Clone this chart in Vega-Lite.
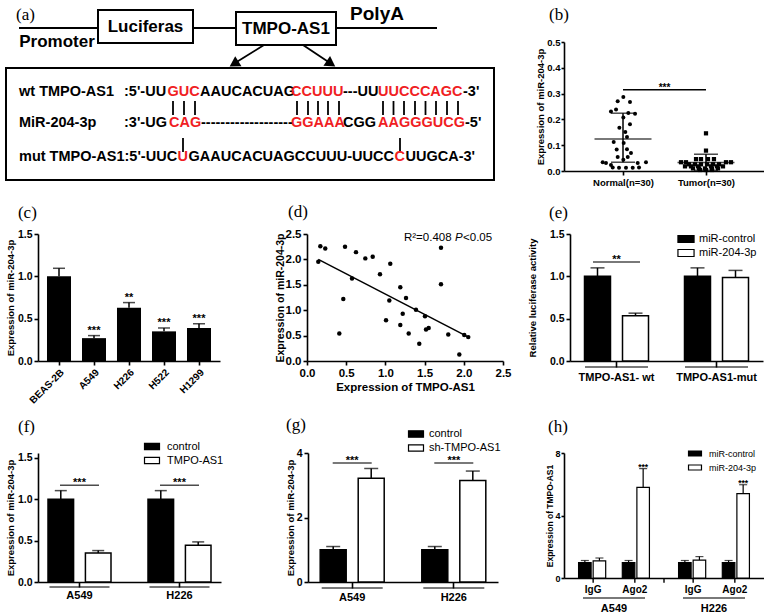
{
"$schema":"https://vega.github.io/schema/vega-lite/v6.json",
"background":"white",
"padding":5,
"config":{
 "view":{"stroke":null},
 "font":"Liberation Sans",
 "axis":{"domainColor":"#000","domainWidth":1.6,"tickColor":"#000","tickWidth":1.6,"tickSize":4,"labelColor":"#000","labelFont":"Liberation Sans","labelFontWeight":"bold","labelFontSize":10,"titleFont":"Liberation Sans","titleFontWeight":"bold","titleFontSize":9.5,"titleColor":"#000","grid":false,"labelPadding":2,"labelFlush":false,"labelOverlap":false},
 "legend":{"orient":"none","title":null,"labelFont":"Liberation Sans","labelColor":"#000","labelFontWeight":"normal","padding":0,"symbolStrokeColor":"#000","symbolStrokeWidth":1.2,"rowPadding":0,"labelOffset":5}
},
"datasets":{
 "a_box":[{"x":5,"x2":493,"y":68,"y2":180},{"x":97,"x2":192,"y":10,"y2":43},{"x":235,"x2":335,"y":12,"y2":45}],
 "a_line":[{"x":18,"x2":97,"y":28,"y2":28},{"x":192,"x2":235,"y":28,"y2":28},{"x":335,"x2":436,"y":28,"y2":28},
  {"x":263,"x2":234,"y":45,"y2":63},{"x":302,"x2":329,"y":45,"y2":63},
  {"x":172,"x2":172,"y":101,"y2":115},{"x":183,"x2":183,"y":101,"y2":115},{"x":194,"x2":194,"y":101,"y2":115},
  {"x":296,"x2":296,"y":101,"y2":115},{"x":307,"x2":307,"y":101,"y2":115},{"x":317,"x2":317,"y":101,"y2":115},{"x":327,"x2":327,"y":101,"y2":115},{"x":338,"x2":338,"y":101,"y2":115},
  {"x":382,"x2":382,"y":101,"y2":115},{"x":392.5,"x2":392.5,"y":101,"y2":115},{"x":403,"x2":403,"y":101,"y2":115},{"x":414,"x2":414,"y":101,"y2":115},{"x":424.5,"x2":424.5,"y":101,"y2":115},{"x":435,"x2":435,"y":101,"y2":115},{"x":446,"x2":446,"y":101,"y2":115},{"x":457,"x2":457,"y":101,"y2":115},
  {"x":182,"x2":182,"y":138,"y2":152},{"x":399,"x2":399,"y":138,"y2":152}],
 "a_head1":[{"x":233,"y":63.9}],
 "a_head2":[{"x":330,"y":63.7}],
 "a_lbl":[{"x":15,"y":20,"t":"(a)"}],
 "a_t17":[{"x":144.5,"y":27,"t":"Luciferas"},{"x":285,"y":29,"t":"TMPO-AS1"},{"x":56,"y":42,"t":"Promoter"}],
 "a_t19":[{"x":376,"y":14,"t":"PolyA"}],
 "a_seq":[
  {"x":18,"y":92,"t":"wt TMPO-AS1","c":"k"},{"x":123,"y":92,"t":":5'-UU","c":"k"},{"x":166.5,"y":92,"t":"GUC","c":"r"},{"x":199,"y":92,"t":"AAUCACUAG","c":"k"},{"x":290,"y":92,"t":"CCUUU","c":"r"},{"x":342,"y":92,"t":"---UU","c":"k"},{"x":377,"y":92,"t":"UUCCCAGC","c":"r"},{"x":462,"y":92,"t":"-3'","c":"k"},
  {"x":18,"y":123,"t":"MiR-204-3p","c":"k"},{"x":123,"y":123,"t":":3'-UG","c":"k"},{"x":168,"y":123,"t":"CAG","c":"r"},{"x":200,"y":123,"t":"-------------------","c":"k"},{"x":290,"y":123,"t":"GGAAA","c":"r"},{"x":342,"y":123,"t":"CGG","c":"k"},{"x":377,"y":123,"t":"AAGGGUCG","c":"r"},{"x":464,"y":123,"t":"-5'","c":"k"},
  {"x":18,"y":157,"t":"mut TMPO-AS1:5'-UUC","c":"k"},{"x":176.5,"y":157,"t":"U","c":"r"},{"x":187.5,"y":157,"t":"GAAUCACUAGCCUUU-UUCC","c":"k"},{"x":393.5,"y":157,"t":"C","c":"r"},{"x":404.5,"y":157,"t":"UUGCA-3'","c":"k"}],
 "b_lbl":[{"jx":0.108,"v":0.585,"t":"(b)"}],
 "b_pts":[{"g":"N","jx":1.004,"v":0.287},{"g":"N","jx":0.936,"v":0.27},{"g":"N","jx":1.084,"v":0.267},{"g":"N","jx":0.855,"v":0.231},{"g":"N","jx":0.916,"v":0.238},{"g":"N","jx":1.064,"v":0.225},{"g":"N","jx":1.145,"v":0.222},{"g":"N","jx":1.004,"v":0.207},{"g":"N","jx":1.084,"v":0.181},{"g":"N","jx":0.956,"v":0.168},{"g":"N","jx":1.028,"v":0.151},{"g":"N","jx":1.048,"v":0.132},{"g":"N","jx":0.888,"v":0.112},{"g":"N","jx":1.008,"v":0.109},{"g":"N","jx":1.048,"v":0.084},{"g":"N","jx":0.924,"v":0.083},{"g":"N","jx":1.096,"v":0.07},{"g":"N","jx":0.936,"v":0.054},{"g":"N","jx":1.057,"v":0.054},{"g":"N","jx":1.004,"v":0.044},{"g":"N","jx":0.755,"v":0.034},{"g":"N","jx":0.795,"v":0.031},{"g":"N","jx":1.177,"v":0.031},{"g":"N","jx":1.277,"v":0.034},{"g":"N","jx":0.876,"v":0.014},{"g":"N","jx":0.952,"v":0.013},{"g":"N","jx":1.036,"v":0.013},{"g":"N","jx":1.117,"v":0.013},{"g":"N","jx":1.193,"v":0.014},{"g":"N","jx":0.855,"v":0.023},
  {"g":"T","jx":2.0,"v":0.146},{"g":"T","jx":2.0,"v":0.079},{"g":"T","jx":1.88,"v":0.046},{"g":"T","jx":1.94,"v":0.046},{"g":"T","jx":2.024,"v":0.046},{"g":"T","jx":2.096,"v":0.046},{"g":"T","jx":1.699,"v":0.034},{"g":"T","jx":1.759,"v":0.034},{"g":"T","jx":2.241,"v":0.034},{"g":"T","jx":2.301,"v":0.034},{"g":"T","jx":1.795,"v":0.026},{"g":"T","jx":1.867,"v":0.026},{"g":"T","jx":1.94,"v":0.026},{"g":"T","jx":2.012,"v":0.026},{"g":"T","jx":2.084,"v":0.026},{"g":"T","jx":2.157,"v":0.026},{"g":"T","jx":1.747,"v":0.018},{"g":"T","jx":1.819,"v":0.018},{"g":"T","jx":1.904,"v":0.018},{"g":"T","jx":2.06,"v":0.018},{"g":"T","jx":2.133,"v":0.018},{"g":"T","jx":2.205,"v":0.018},{"g":"T","jx":1.843,"v":0.01},{"g":"T","jx":1.916,"v":0.01},{"g":"T","jx":1.988,"v":0.01},{"g":"T","jx":2.072,"v":0.01},{"g":"T","jx":2.145,"v":0.01},{"g":"T","jx":1.928,"v":0.004},{"g":"T","jx":2.0,"v":0.004},{"g":"T","jx":2.072,"v":0.004}],
 "b_stats":[{"jx":1,"k":"mean","v":0.124},{"jx":1,"k":"lo","v":0.034},{"jx":1,"k":"hi","v":0.224},{"jx":2,"k":"mean","v":0.033},{"jx":2,"k":"lo","v":0.003},{"jx":2,"k":"hi","v":0.065}],
 "b_sig":[{"jx":1,"jx2":2,"v":0.315,"jm":1.5,"t":"***"}],
 "c":[{"cell":"BEAS-2B","v":1.0,"hi":1.095,"sig":""},{"cell":"A549","v":0.27,"hi":0.3,"sig":"***"},{"cell":"H226","v":0.63,"hi":0.69,"sig":"**"},{"cell":"H522","v":0.35,"hi":0.39,"sig":"***"},{"cell":"H1299","v":0.39,"hi":0.44,"sig":"***"}],
 "c_lbl":[{"cell":"BEAS-2B","t":"(c)"}],
 "d_lbl":[{"x":-0.242,"y":2.835,"t":"(d)"}],
 "d_pts":[{"x":0.144,"y":1.955},{"x":0.17,"y":2.26},{"x":0.233,"y":2.214},{"x":0.485,"y":2.247},{"x":0.625,"y":2.143},{"x":0.744,"y":2.02},{"x":0.838,"y":2.05},{"x":1.062,"y":1.916},{"x":0.931,"y":1.708},{"x":0.574,"y":1.623},{"x":0.463,"y":1.22},{"x":0.412,"y":0.54},{"x":1.008,"y":0.8},{"x":1.05,"y":1.19},{"x":1.19,"y":1.45},{"x":1.263,"y":1.24},{"x":1.221,"y":0.93},{"x":1.19,"y":0.71},{"x":1.297,"y":0.54},{"x":1.432,"y":0.34},{"x":1.39,"y":1.01},{"x":1.505,"y":0.88},{"x":1.518,"y":0.62},{"x":1.552,"y":0.65},{"x":1.709,"y":2.23},{"x":1.709,"y":1.51},{"x":1.802,"y":0.52},{"x":1.943,"y":0.13},{"x":2.006,"y":0.51},{"x":2.057,"y":0.47}],
 "d_fit":[{"x":0.144,"y":2.0},{"x":2.06,"y":0.47}],
 "d_lab":[{"x":1.237,"y":2.42,"t":"R²=0.408","it":false},{"x":1.888,"y":2.42,"t":"P","it":true},{"x":1.99,"y":2.42,"t":"<0.05","it":false}],
 "e":[{"grp":"TMPO-AS1- wt","s":"miR-control","v":1.0,"hi":1.1},{"grp":"TMPO-AS1- wt","s":"miR-204-3p","v":0.535,"hi":0.565},{"grp":"TMPO-AS1-mut","s":"miR-control","v":1.0,"hi":1.1},{"grp":"TMPO-AS1-mut","s":"miR-204-3p","v":0.985,"hi":1.07}],
 "e_sig":[{"grp":"TMPO-AS1- wt","y":1.17,"t":"**"}],
 "e_grp":[{"grp":"TMPO-AS1- wt"},{"grp":"TMPO-AS1-mut"}],
 "e_lbl":[{"grp":"TMPO-AS1- wt","t":"(e)"}],
 "f":[{"grp":"A549","s":"control","v":1.0,"hi":1.105},{"grp":"A549","s":"TMPO-AS1","v":0.35,"hi":0.38},{"grp":"H226","s":"control","v":1.0,"hi":1.105},{"grp":"H226","s":"TMPO-AS1","v":0.445,"hi":0.485}],
 "f_sig":[{"grp":"A549","y":1.17,"t":"***"},{"grp":"H226","y":1.17,"t":"***"}],
 "f_lbl":[{"grp":"A549","t":"(f)"}],
 "g":[{"grp":"A549","s":"control","v":1.0,"hi":1.1},{"grp":"A549","s":"sh-TMPO-AS1","v":3.22,"hi":3.52},{"grp":"H226","s":"control","v":1.0,"hi":1.1},{"grp":"H226","s":"sh-TMPO-AS1","v":3.15,"hi":3.44}],
 "g_sig":[{"grp":"A549","y":3.69,"t":"***"},{"grp":"H226","y":3.69,"t":"***"}],
 "g_lbl":[{"grp":"A549","t":"(g)"}],
 "h":[{"cell":"A549","s":"miR-control","slot":"IgG c","v":0.98,"hi":1.12,"sig":""},{"cell":"A549","s":"miR-204-3p","slot":"IgG m","v":1.1,"hi":1.28,"sig":""},{"cell":"A549","s":"miR-control","slot":"Ago2 c","v":0.98,"hi":1.12,"sig":""},{"cell":"A549","s":"miR-204-3p","slot":"Ago2 m","v":5.8,"hi":7.0,"sig":"***"},
  {"cell":"H226","s":"miR-control","slot":"IgG c","v":0.98,"hi":1.12,"sig":""},{"cell":"H226","s":"miR-204-3p","slot":"IgG m","v":1.15,"hi":1.37,"sig":""},{"cell":"H226","s":"miR-control","slot":"Ago2 c","v":0.98,"hi":1.12,"sig":""},{"cell":"H226","s":"miR-204-3p","slot":"Ago2 m","v":5.4,"hi":5.97,"sig":"***"}],
 "h_lab":[{"cell":"A549","ip":"IgG"},{"cell":"A549","ip":"Ago2"},{"cell":"H226","ip":"IgG"},{"cell":"H226","ip":"Ago2"}],
 "h_cell":[{"cell":"A549"},{"cell":"H226"}],
 "h_gap":[{"cell":"A549"}],
 "h_lbl":[{"cell":"A549","t":"(h)"}]
},
"spacing":192,
"bounds":"flush",
"resolve":{"scale":{"color":"independent"},"legend":{"color":"independent"}},
"vconcat":[
 {"spacing":70,"bounds":"flush","resolve":{"scale":{"color":"independent"},"legend":{"color":"independent"}},"hconcat":[
  {"width":456,"height":129,
   "encoding":{"x":{"field":"x","type":"quantitative","scale":{"domain":[37,493],"nice":false,"zero":false},"axis":null},
               "y":{"field":"y","type":"quantitative","scale":{"domain":[42,171],"nice":false,"zero":false,"reverse":true},"axis":null}},
   "layer":[
    {"data":{"name":"a_box"},"mark":{"type":"rect","fill":"transparent","stroke":"#000","strokeWidth":2},"encoding":{"x2":{"field":"x2"},"y2":{"field":"y2"}}},
    {"data":{"name":"a_line"},"mark":{"type":"rule","color":"#000","strokeWidth":1.8},"encoding":{"x2":{"field":"x2"},"y2":{"field":"y2"}}},
    {"data":{"name":"a_head1"},"mark":{"type":"point","shape":"triangle-up","filled":true,"size":140,"angle":238,"color":"#000","opacity":1}},
    {"data":{"name":"a_head2"},"mark":{"type":"point","shape":"triangle-up","filled":true,"size":140,"angle":124,"color":"#000","opacity":1}},
    {"data":{"name":"a_lbl"},"mark":{"type":"text","font":"Liberation Serif","fontSize":17,"align":"left","baseline":"alphabetic","color":"#000"},"encoding":{"text":{"field":"t"}}},
    {"data":{"name":"a_t17"},"mark":{"type":"text","fontWeight":"bold","fontSize":17,"align":"center","baseline":"middle","color":"#000"},"encoding":{"text":{"field":"t"}}},
    {"data":{"name":"a_t19"},"mark":{"type":"text","fontWeight":"bold","fontSize":19,"align":"center","baseline":"middle","color":"#000"},"encoding":{"text":{"field":"t"}}},
    {"data":{"name":"a_seq"},"mark":{"type":"text","fontWeight":"bold","fontSize":14.5,"align":"left","baseline":"middle"},"encoding":{"text":{"field":"t"},"color":{"field":"c","type":"nominal","scale":{"domain":["k","r"],"range":["#000000","#f01e23"]},"legend":null}}}
   ]},
  {"width":200,"height":129,
   "encoding":{"x":{"field":"jx","type":"quantitative","scale":{"domain":[0.289,2.699],"nice":false,"zero":false},"axis":{"values":[1,2],"labelExpr":"datum.value==1?'Normal(n=30)':'Tumor(n=30)'","title":null,"labelFontSize":9.5,"labelPadding":2}},
               "y":{"field":"v","type":"quantitative","scale":{"domain":[0,0.5],"nice":false},"axis":{"values":[0,0.1,0.2,0.3,0.4,0.5],"format":".1f","title":"Expression of miR-204-3p","labelFontSize":9.5,"tickSize":3,"labelPadding":1,"titlePadding":1}}},
   "layer":[
    {"data":{"name":"b_pts"},"transform":[{"filter":"datum.g=='N'"}],"mark":{"type":"circle","size":16,"color":"#000","opacity":1}},
    {"data":{"name":"b_pts"},"transform":[{"filter":"datum.g=='T'"}],"mark":{"type":"square","size":18,"color":"#000","opacity":1}},
    {"data":{"name":"b_stats"},"transform":[{"filter":"datum.k=='mean'"}],"mark":{"type":"tick","orient":"horizontal","size":57,"thickness":1.5,"color":"#000"}},
    {"data":{"name":"b_stats"},"transform":[{"filter":"datum.k!='mean'"}],"mark":{"type":"tick","orient":"horizontal","size":24,"thickness":1.5,"color":"#000"}},
    {"data":{"name":"b_stats"},"transform":[{"filter":"datum.k!='mean'"}],"mark":{"type":"line","color":"#000","strokeWidth":1.5},"encoding":{"detail":{"field":"jx"}}},
    {"data":{"name":"b_sig"},"mark":{"type":"rule","color":"#000","strokeWidth":1.5},"encoding":{"x2":{"field":"jx2"}}},
    {"data":{"name":"b_sig"},"mark":{"type":"text","fontWeight":"bold","fontSize":10,"baseline":"alphabetic","dy":1,"color":"#000"},"encoding":{"x":{"field":"jm","type":"quantitative","scale":{"domain":[0.289,2.699],"nice":false,"zero":false}},"text":{"field":"t"}}},
    {"data":{"name":"b_lbl"},"mark":{"type":"text","font":"Liberation Serif","fontSize":17,"align":"left","baseline":"alphabetic","color":"#000"},"encoding":{"text":{"field":"t"}}}
   ]}
 ]},
 {"spacing":219,"bounds":"flush","resolve":{"scale":{"color":"independent"},"legend":{"color":"independent"}},"vconcat":[
  {"spacing":87,"bounds":"flush","resolve":{"scale":{"color":"independent"},"legend":{"color":"independent"}},"hconcat":[
   {"width":182,"height":127,
    "data":{"name":"c"},
    "encoding":{"x":{"field":"cell","type":"nominal","sort":null,"scale":{"paddingInner":0.314,"paddingOuter":0.257},"axis":{"title":null,"labelAngle":-45,"labelFontSize":10}}},
    "layer":[
     {"mark":{"type":"bar","color":"#000"},"encoding":{"y":{"field":"v","type":"quantitative","scale":{"domain":[0,1.5],"nice":false},"axis":{"values":[0,0.5,1,1.5],"format":".1f","title":"Expression of miR-204-3p","labelFontSize":10.5,"titlePadding":2}}}},
     {"mark":{"type":"rule","color":"#000","strokeWidth":1.5},"encoding":{"y":{"field":"v","type":"quantitative","scale":{"domain":[0,1.5],"nice":false}},"y2":{"field":"hi"}}},
     {"mark":{"type":"tick","orient":"horizontal","size":12,"thickness":1.5,"color":"#000"},"encoding":{"y":{"field":"hi","type":"quantitative","scale":{"domain":[0,1.5],"nice":false}}}},
     {"mark":{"type":"text","fontWeight":"bold","fontSize":11,"baseline":"alphabetic","dy":-2,"color":"#000"},"encoding":{"y":{"field":"hi","type":"quantitative","scale":{"domain":[0,1.5],"nice":false}},"text":{"field":"sig"}}},
     {"data":{"name":"c_lbl"},"mark":{"type":"text","font":"Liberation Serif","fontSize":17,"align":"left","baseline":"alphabetic","color":"#000"},"encoding":{"x":{"field":"cell","type":"nominal","bandPosition":-1.21},"y":{"datum":1.689,"scale":{"domain":[0,1.5],"nice":false}},"text":{"field":"t"}}}
    ]},
   {"spacing":67,"bounds":"flush","resolve":{"scale":{"color":"independent"},"legend":{"color":"independent"}},"hconcat":[
    {"width":196,"height":127,
     "encoding":{"x":{"field":"x","type":"quantitative","scale":{"domain":[0,2.5],"nice":false},"axis":{"values":[0,0.5,1,1.5,2,2.5],"format":".1f","title":"Expression of TMPO-AS1","labelFontSize":11.5,"titleFontSize":11.5,"titlePadding":3}},
                 "y":{"field":"y","type":"quantitative","scale":{"domain":[0,2.5],"nice":false},"axis":{"values":[0,0.5,1,1.5,2,2.5],"format":".1f","title":"Expression of miR-204-3p","labelFontSize":11.5,"titleFontSize":10.5,"titlePadding":0}}},
     "layer":[
      {"data":{"name":"d_pts"},"mark":{"type":"circle","size":20,"color":"#000","opacity":1}},
      {"data":{"name":"d_fit"},"mark":{"type":"line","color":"#000","strokeWidth":1.5}},
      {"data":{"name":"d_lab"},"transform":[{"filter":"!datum.it"}],"mark":{"type":"text","align":"left","baseline":"middle","fontSize":11.5,"color":"#000"},"encoding":{"text":{"field":"t"}}},
      {"data":{"name":"d_lab"},"transform":[{"filter":"datum.it"}],"mark":{"type":"text","align":"left","baseline":"middle","fontSize":11.5,"fontStyle":"italic","color":"#000"},"encoding":{"text":{"field":"t"}}},
      {"data":{"name":"d_lbl"},"mark":{"type":"text","font":"Liberation Serif","fontSize":17,"align":"left","baseline":"alphabetic","color":"#000"},"encoding":{"text":{"field":"t"}}}
     ]},
    {"width":193,"height":127,
     "resolve":{"scale":{"xOffset":"independent"}},
     "encoding":{"x":{"field":"grp","type":"nominal","sort":null,"scale":{"paddingInner":0.36,"paddingOuter":0.145},"axis":{"title":null,"labelAngle":0,"labelFontSize":11,"tickSize":6,"labelPadding":4}}},
     "layer":[
      {"data":{"name":"e"},"mark":{"type":"bar","stroke":"#000","strokeWidth":1.5},
       "encoding":{"xOffset":{"field":"s","type":"nominal","scale":{"type":"band","domain":["miR-control","miR-204-3p"],"paddingInner":0.316,"paddingOuter":0}},
        "y":{"field":"v","type":"quantitative","stack":null,"scale":{"domain":[0,1.5],"nice":false},"axis":{"values":[0,0.5,1,1.5],"format":".1f","title":"Relative luciferase activity","labelFontSize":10.5,"titlePadding":12}},
        "color":{"field":"s","type":"nominal","sort":null,"scale":{"domain":["miR-control","miR-204-3p"],"range":["#000000","#ffffff"]},"legend":{"legendX":108,"legendY":-3,"symbolType":"M-1.15,-0.5H1.15V0.5H-1.15Z","symbolSize":196,"labelFontSize":11,"labelOffset":5}}}},
      {"data":{"name":"e"},"mark":{"type":"rule","color":"#000","strokeWidth":1.5},"encoding":{"xOffset":{"field":"s","type":"nominal","scale":{"type":"band","domain":["miR-control","miR-204-3p"],"paddingInner":0.316,"paddingOuter":0}},"y":{"field":"v","type":"quantitative","scale":{"domain":[0,1.5],"nice":false}},"y2":{"field":"hi"}}},
      {"data":{"name":"e"},"mark":{"type":"tick","orient":"horizontal","size":14,"thickness":1.5,"color":"#000"},"encoding":{"xOffset":{"field":"s","type":"nominal","scale":{"type":"band","domain":["miR-control","miR-204-3p"],"paddingInner":0.316,"paddingOuter":0}},"y":{"field":"hi","type":"quantitative","scale":{"domain":[0,1.5],"nice":false}}}},
      {"data":{"name":"e_sig"},"mark":{"type":"tick","orient":"horizontal","size":47,"thickness":1.5,"color":"#000"},"encoding":{"y":{"field":"y","type":"quantitative","scale":{"domain":[0,1.5],"nice":false}}}},
      {"data":{"name":"e_sig"},"mark":{"type":"text","fontWeight":"bold","fontSize":11,"baseline":"alphabetic","dy":1,"color":"#000"},"encoding":{"y":{"field":"y","type":"quantitative","scale":{"domain":[0,1.5],"nice":false}},"text":{"field":"t"}}},
      {"data":{"name":"e_grp"},"mark":{"type":"tick","orient":"horizontal","size":63,"thickness":1.5,"color":"#000"},"encoding":{"y":{"datum":-0.071,"scale":{"domain":[0,1.5],"nice":false}}}},
      {"data":{"name":"e_lbl"},"mark":{"type":"text","font":"Liberation Serif","fontSize":17,"align":"left","baseline":"alphabetic","color":"#000"},"encoding":{"x":{"field":"grp","type":"nominal","bandPosition":-0.555},"y":{"datum":1.689,"scale":{"domain":[0,1.5],"nice":false}},"text":{"field":"t"}}}
     ]}
   ]}
  ]},
  {"spacing":87,"bounds":"flush","resolve":{"scale":{"color":"independent"},"legend":{"color":"independent"}},"hconcat":[
   {"width":183,"height":129,
    "resolve":{"scale":{"xOffset":"independent"}},
    "encoding":{"x":{"field":"grp","type":"nominal","sort":null,"scale":{"paddingInner":0.37,"paddingOuter":0.1},"axis":{"title":null,"labelAngle":0,"labelFontSize":11,"tickSize":5,"labelPadding":2.5}}},
    "layer":[
     {"data":{"name":"f"},"mark":{"type":"bar","stroke":"#000","strokeWidth":1.5},
      "encoding":{"xOffset":{"field":"s","type":"nominal","scale":{"type":"band","domain":["control","TMPO-AS1"],"paddingInner":0.316,"paddingOuter":0}},
       "y":{"field":"v","type":"quantitative","stack":null,"scale":{"domain":[0,1.56],"nice":false},"axis":{"values":[0,0.5,1,1.5],"format":".1f","title":"Expression of miR-204-3p","labelFontSize":10.5,"titlePadding":2}},
       "color":{"field":"s","type":"nominal","sort":null,"scale":{"domain":["control","TMPO-AS1"],"range":["#000000","#ffffff"]},"legend":{"legendX":106,"legendY":-14.5,"symbolType":"M-1.07,-0.46H1.07V0.46H-1.07Z","symbolSize":196,"labelFontSize":11,"labelOffset":7}}}},
     {"data":{"name":"f"},"mark":{"type":"rule","color":"#000","strokeWidth":1.5},"encoding":{"xOffset":{"field":"s","type":"nominal","scale":{"type":"band","domain":["control","TMPO-AS1"],"paddingInner":0.316,"paddingOuter":0}},"y":{"field":"v","type":"quantitative","scale":{"domain":[0,1.56],"nice":false}},"y2":{"field":"hi"}}},
     {"data":{"name":"f"},"mark":{"type":"tick","orient":"horizontal","size":12,"thickness":1.5,"color":"#000"},"encoding":{"xOffset":{"field":"s","type":"nominal","scale":{"type":"band","domain":["control","TMPO-AS1"],"paddingInner":0.316,"paddingOuter":0}},"y":{"field":"hi","type":"quantitative","scale":{"domain":[0,1.56],"nice":false}}}},
     {"data":{"name":"f_sig"},"mark":{"type":"tick","orient":"horizontal","size":39,"thickness":1.5,"color":"#000"},"encoding":{"y":{"field":"y","type":"quantitative","scale":{"domain":[0,1.56],"nice":false}}}},
     {"data":{"name":"f_sig"},"mark":{"type":"text","fontWeight":"bold","fontSize":11,"baseline":"alphabetic","dy":1,"color":"#000"},"encoding":{"y":{"field":"y","type":"quantitative","scale":{"domain":[0,1.56],"nice":false}},"text":{"field":"t"}}},
     {"data":{"name":"f_sig"},"mark":{"type":"tick","orient":"horizontal","size":60,"thickness":1.5,"color":"#000"},"encoding":{"y":{"datum":-0.06,"scale":{"domain":[0,1.56],"nice":false}}}},
     {"data":{"name":"f_lbl"},"mark":{"type":"text","font":"Liberation Serif","fontSize":17,"align":"left","baseline":"alphabetic","color":"#000"},"encoding":{"x":{"field":"grp","type":"nominal","bandPosition":-0.476},"y":{"datum":1.814,"scale":{"domain":[0,1.56],"nice":false}},"text":{"field":"t"}}}
    ]},
   {"spacing":66,"bounds":"flush","resolve":{"scale":{"color":"independent"},"legend":{"color":"independent"}},"hconcat":[
    {"width":190,"height":129,
     "resolve":{"scale":{"xOffset":"independent"}},
     "encoding":{"x":{"field":"grp","type":"nominal","sort":null,"scale":{"paddingInner":0.37,"paddingOuter":0.12},"axis":{"title":null,"labelAngle":0,"labelFontSize":11,"tickSize":6,"labelPadding":3.5}}},
     "layer":[
      {"data":{"name":"g"},"mark":{"type":"bar","stroke":"#000","strokeWidth":1.5},
       "encoding":{"xOffset":{"field":"s","type":"nominal","scale":{"type":"band","domain":["control","sh-TMPO-AS1"],"paddingInner":0.316,"paddingOuter":0}},
        "y":{"field":"v","type":"quantitative","stack":null,"scale":{"domain":[0,4],"nice":false},"axis":{"values":[0,1,2,3,4],"format":"d","title":"Expression of miR-204-3p","labelFontSize":10.5,"titlePadding":1}},
        "color":{"field":"s","type":"nominal","sort":null,"scale":{"domain":["control","sh-TMPO-AS1"],"range":["#000000","#ffffff"]},"legend":{"legendX":100,"legendY":-27,"symbolType":"M-1.07,-0.46H1.07V0.46H-1.07Z","symbolSize":196,"labelFontSize":11,"labelOffset":5}}}},
      {"data":{"name":"g"},"mark":{"type":"rule","color":"#000","strokeWidth":1.5},"encoding":{"xOffset":{"field":"s","type":"nominal","scale":{"type":"band","domain":["control","sh-TMPO-AS1"],"paddingInner":0.316,"paddingOuter":0}},"y":{"field":"v","type":"quantitative","scale":{"domain":[0,4],"nice":false}},"y2":{"field":"hi"}}},
      {"data":{"name":"g"},"mark":{"type":"tick","orient":"horizontal","size":14,"thickness":1.5,"color":"#000"},"encoding":{"xOffset":{"field":"s","type":"nominal","scale":{"type":"band","domain":["control","sh-TMPO-AS1"],"paddingInner":0.316,"paddingOuter":0}},"y":{"field":"hi","type":"quantitative","scale":{"domain":[0,4],"nice":false}}}},
      {"data":{"name":"g_sig"},"mark":{"type":"tick","orient":"horizontal","size":39,"thickness":1.5,"color":"#000"},"encoding":{"y":{"field":"y","type":"quantitative","scale":{"domain":[0,4],"nice":false}}}},
      {"data":{"name":"g_sig"},"mark":{"type":"text","fontWeight":"bold","fontSize":11,"baseline":"alphabetic","dy":1,"color":"#000"},"encoding":{"y":{"field":"y","type":"quantitative","scale":{"domain":[0,4],"nice":false}},"text":{"field":"t"}}},
      {"data":{"name":"g_sig"},"mark":{"type":"tick","orient":"horizontal","size":61,"thickness":1.5,"color":"#000"},"encoding":{"y":{"datum":-0.186,"scale":{"domain":[0,4],"nice":false}}}},
      {"data":{"name":"g_lbl"},"mark":{"type":"text","font":"Liberation Serif","fontSize":17,"align":"left","baseline":"alphabetic","color":"#000"},"encoding":{"x":{"field":"grp","type":"nominal","bandPosition":-0.534},"y":{"datum":4.713,"scale":{"domain":[0,4],"nice":false}},"text":{"field":"t"}}}
     ]},
    {"width":200,"height":125,
     "resolve":{"scale":{"xOffset":"independent"}},
     "encoding":{"x":{"field":"cell","type":"nominal","sort":null,"scale":{"paddingInner":0,"paddingOuter":0},"axis":{"title":null,"labelAngle":0,"ticks":false,"tickSize":0,"labelPadding":24,"labelFontSize":11}}},
     "layer":[
      {"data":{"name":"h"},"mark":{"type":"bar","stroke":"#000","strokeWidth":1.2},
       "encoding":{"xOffset":{"field":"slot","type":"nominal","scale":{"type":"band","domain":["IgG c","IgG m","gap","Ago2 c","Ago2 m"],"paddingInner":0.14,"paddingOuter":1.166}},
        "y":{"field":"v","type":"quantitative","stack":null,"scale":{"domain":[0,8],"nice":false},"axis":{"values":[0,2,4,6,8],"format":"d","title":"Expression of TMPO-AS1","labelFontSize":9,"titleFontSize":8.5,"tickSize":3,"labelPadding":1,"titlePadding":0}},
        "color":{"field":"s","type":"nominal","sort":null,"scale":{"domain":["miR-control","miR-204-3p"],"range":["#000000","#ffffff"]},"legend":{"legendX":124,"legendY":-6.5,"symbolType":"M-1.08,-0.42H1.08V0.42H-1.08Z","symbolSize":144,"labelFontSize":9,"labelOffset":7,"rowPadding":2}}}},
      {"data":{"name":"h"},"mark":{"type":"rule","color":"#000","strokeWidth":1.2},"encoding":{"xOffset":{"field":"slot","type":"nominal","scale":{"type":"band","domain":["IgG c","IgG m","gap","Ago2 c","Ago2 m"],"paddingInner":0.14,"paddingOuter":1.166}},"y":{"field":"v","type":"quantitative","scale":{"domain":[0,8],"nice":false}},"y2":{"field":"hi"}}},
      {"data":{"name":"h"},"mark":{"type":"tick","orient":"horizontal","size":8,"thickness":1.2,"color":"#000"},"encoding":{"xOffset":{"field":"slot","type":"nominal","scale":{"type":"band","domain":["IgG c","IgG m","gap","Ago2 c","Ago2 m"],"paddingInner":0.14,"paddingOuter":1.166}},"y":{"field":"hi","type":"quantitative","scale":{"domain":[0,8],"nice":false}}}},
      {"data":{"name":"h"},"mark":{"type":"text","fontWeight":"bold","fontSize":8.5,"baseline":"alphabetic","dy":1,"color":"#000"},"encoding":{"xOffset":{"field":"slot","type":"nominal","scale":{"type":"band","domain":["IgG c","IgG m","gap","Ago2 c","Ago2 m"],"paddingInner":0.14,"paddingOuter":1.166}},"y":{"field":"hi","type":"quantitative","scale":{"domain":[0,8],"nice":false}},"text":{"field":"sig"}}},
      {"data":{"name":"h_lab"},"mark":{"type":"text","fontWeight":"bold","fontSize":10,"baseline":"middle","color":"#000"},"encoding":{"xOffset":{"field":"ip","type":"nominal","scale":{"type":"band","domain":["IgG","Ago2"],"paddingInner":0.5,"paddingOuter":0.449}},"y":{"datum":-0.77,"scale":{"domain":[0,8],"nice":false}},"text":{"field":"ip"}}},
      {"data":{"name":"h_lab"},"mark":{"type":"rule","color":"#000","strokeWidth":1.4},"encoding":{"xOffset":{"field":"ip","type":"nominal","scale":{"type":"band","domain":["IgG","Ago2"],"paddingInner":0.5,"paddingOuter":0.449}},"y":{"datum":0,"scale":{"domain":[0,8],"nice":false}},"y2":{"datum":-0.3}}},
      {"data":{"name":"h_gap"},"mark":{"type":"rule","color":"#000","strokeWidth":1.4},"encoding":{"x":{"field":"cell","type":"nominal","bandPosition":1},"y":{"datum":0,"scale":{"domain":[0,8],"nice":false}},"y2":{"datum":-0.3}}},
      {"data":{"name":"h_cell"},"mark":{"type":"tick","orient":"horizontal","size":62,"thickness":1.4,"color":"#000"},"encoding":{"y":{"datum":-1.28,"scale":{"domain":[0,8],"nice":false}}}},
      {"data":{"name":"h_lbl"},"mark":{"type":"text","font":"Liberation Serif","fontSize":17,"align":"left","baseline":"alphabetic","color":"#000"},"encoding":{"x":{"field":"cell","type":"nominal","bandPosition":-0.16},"y":{"datum":9.344,"scale":{"domain":[0,8],"nice":false}},"text":{"field":"t"}}}
     ]}
   ]}
  ]}
 ]}
]
}
